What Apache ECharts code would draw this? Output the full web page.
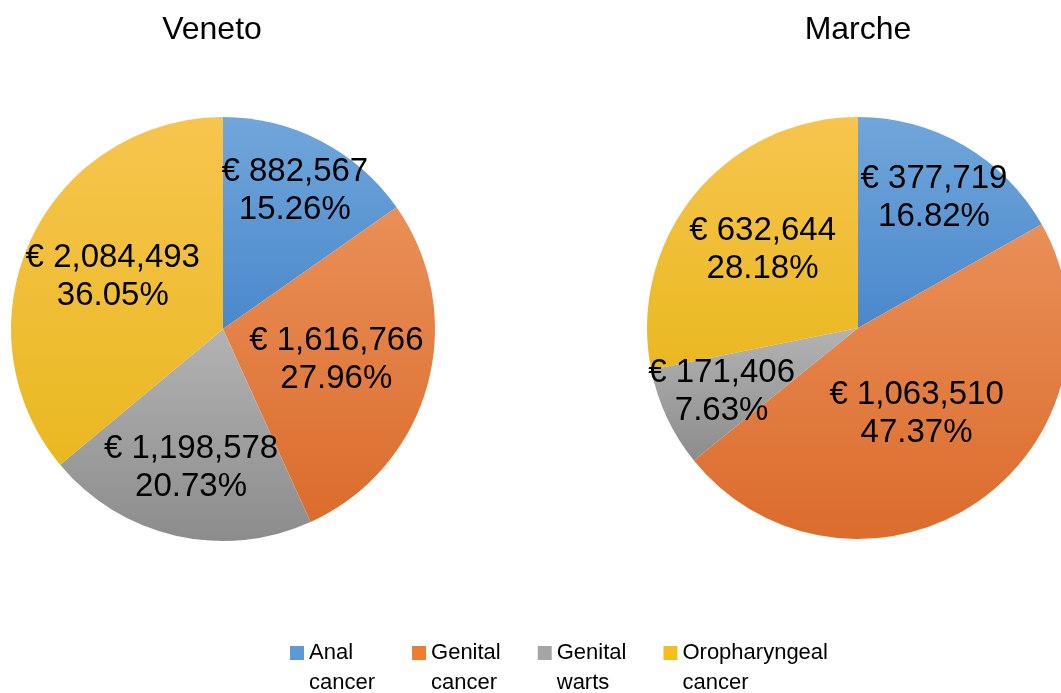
<!DOCTYPE html>
<html>
<head>
<meta charset="utf-8">
<script src="https://cdn.jsdelivr.net/npm/echarts@6/dist/echarts.min.js"></script>
<style>
  html, body { margin: 0; padding: 0; background: #fff; }
  #main { width: 1061px; height: 693px; }
</style>
</head>
<body>
<div id="main"></div>
<script>
// data
var categories = ['Anal cancer', 'Genital cancer', 'Genital warts', 'Oropharyngeal cancer'];
var venetoValues = [882567, 1616766, 1198578, 2084493];
var venetoPct = ['15.26%', '27.96%', '20.73%', '36.05%'];
var marcheValues = [377719, 1063510, 171406, 632644];
var marchePct = ['16.82%', '47.37%', '7.63%', '28.18%'];

// colours (office style, light top -> dark bottom)
var colorsTop = ['#70a6da', '#e98f58', '#b3b3b3', '#f7c54e'];
var colorsBottom = ['#4a88cc', '#db6c2c', '#8c8c8c', '#e9b820'];
var legendColors = ['#5b9bd5', '#ed7d31', '#a5a5a5', '#f5be1e'];

// label distance from centre, as fraction of radius (label placement style)
var venetoLabelR = [0.72, 0.54, 0.66, 0.56];
var marcheLabelR = [0.70, 0.48, 0.70, 0.57];

function fmt(v) {
    return '€ ' + v.toString().replace(/\B(?=(\d{3})+(?!\d))/g, ',');
}

function buildData(values, pct, labelR, radius) {
    var total = values.reduce(function (a, b) { return a + b; }, 0);
    var acc = 0;
    return values.map(function (v, i) {
        var mid = (acc + v / 2) / total * Math.PI * 2;
        acc += v;
        var d = (labelR[i] - 0.5) * radius;
        return {
            name: categories[i],
            value: v,
            pct: pct[i],
            itemStyle: {
                color: new echarts.graphic.LinearGradient(0, 0, 0, 1, [
                    { offset: 0, color: colorsTop[i] },
                    { offset: 1, color: colorsBottom[i] }
                ])
            },
            label: {
                offset: [d * Math.sin(mid), -d * Math.cos(mid)]
            }
        };
    });
}

var myChart = echarts.init(document.getElementById('main'));
var labelStyle = {
    show: true,
    position: 'inside',
    fontFamily: 'Liberation Sans',
    fontSize: 33,
    lineHeight: 38,
    color: '#000',
    formatter: function (p) { return fmt(p.value) + '\n' + p.data.pct; }
};

var option = {
    backgroundColor: '#fff',
    animation: false,
    color: legendColors,
    title: [
        {
            text: 'Veneto',
            left: 207,
            top: 9,
            textAlign: 'center',
            textStyle: { fontFamily: 'Liberation Sans', fontSize: 32, fontWeight: 'normal', color: '#000' }
        },
        {
            text: 'Marche',
            left: 853,
            top: 9,
            textAlign: 'center',
            textStyle: { fontFamily: 'Liberation Sans', fontSize: 32, fontWeight: 'normal', color: '#000' }
        }
    ],
    legend: {
        left: 285,
        top: 603,
        itemWidth: 14,
        itemHeight: 14,
        itemGap: 37,
        icon: 'rect',
        data: categories.map(function (c, i) {
            return { name: c, itemStyle: { color: legendColors[i] } };
        }),
        // blank first line keeps the square level with the first word
        formatter: function (name) { return '\n' + name.replace(' ', '\n'); },
        textStyle: {
            fontFamily: 'Liberation Sans',
            fontSize: 22,
            lineHeight: 30,
            color: '#000'
        }
    },
    series: [
        {
            name: 'Veneto',
            type: 'pie',
            center: [223, 329],
            radius: 212,
            startAngle: 90,
            silent: true,
            label: labelStyle,
            labelLine: { show: false },
            data: buildData(venetoValues, venetoPct, venetoLabelR, 212)
        },
        {
            name: 'Marche',
            type: 'pie',
            center: [858, 328],
            radius: 211,
            startAngle: 90,
            silent: true,
            label: labelStyle,
            labelLine: { show: false },
            data: buildData(marcheValues, marchePct, marcheLabelR, 211)
        }
    ]
};
myChart.setOption(option);
</script>
</body>
</html>
